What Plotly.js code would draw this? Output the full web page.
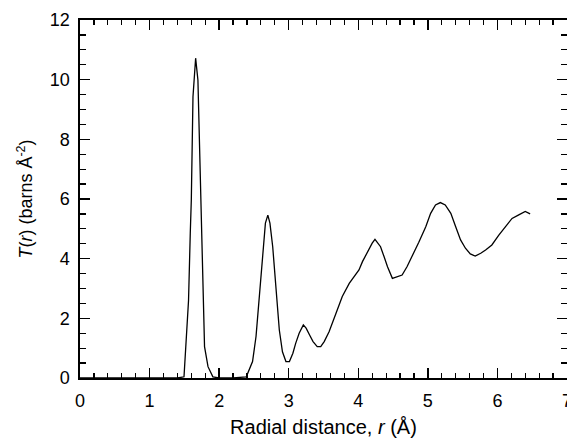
<!DOCTYPE html>
<html>
<head>
<meta charset="utf-8">
<script src="https://cdn.plot.ly/plotly-3.0.1.min.js"></script>
<style>html,body{margin:0;padding:0;background:#fff;overflow:hidden}</style>
</head>
<body>
<div id="chart" style="width:567px;height:440px"></div>
<script>
const rValues = [0.00, 0.50, 1.00, 1.40, 1.495, 1.504, 1.528, 1.56, 1.585, 1.60, 1.624, 1.648, 1.662, 1.695, 1.72, 1.743, 1.767, 1.79, 1.84, 1.91,
  2.00, 2.20, 2.39, 2.48, 2.53, 2.58, 2.63, 2.665, 2.70, 2.73, 2.77, 2.82, 2.865, 2.91, 2.96, 3.01, 3.06, 3.10, 3.15, 3.21, 3.25, 3.30, 3.35, 3.41, 3.46, 3.51, 3.58, 3.68, 3.77, 3.87, 3.96, 4.01, 4.06, 4.13, 4.20, 4.24, 4.27, 4.32, 4.37, 4.42, 4.49, 4.56, 4.63, 4.70, 4.78, 4.87, 4.97, 5.04, 5.11, 5.18, 5.25, 5.33, 5.40, 5.47, 5.54, 5.61, 5.68, 5.76, 5.83, 5.92, 6.02, 6.11, 6.21, 6.30, 6.40, 6.47];
const tValues = [0.00, 0.00, 0.00, 0.00, 0.04, 0.38, 1.05, 2.60, 4.85, 5.97, 9.43, 10.55, 10.72, 9.99, 7.75, 4.96, 2.73, 1.05, 0.38, 0.04,
  0.00, 0.00, 0.04, 0.55, 1.39, 2.73, 4.18, 5.19, 5.46, 5.19, 4.40, 2.95, 1.61, 0.88, 0.55, 0.55, 0.83, 1.16, 1.50, 1.78, 1.67, 1.44, 1.22, 1.05, 1.05, 1.22, 1.55, 2.17, 2.73, 3.17, 3.45, 3.62, 3.90, 4.23, 4.52, 4.65, 4.57, 4.40, 4.07, 3.73, 3.34, 3.40, 3.45, 3.73, 4.10, 4.55, 5.07, 5.52, 5.80, 5.88, 5.80, 5.52, 5.07, 4.63, 4.35, 4.16, 4.09, 4.18, 4.29, 4.46, 4.79, 5.07, 5.35, 5.46, 5.58, 5.50];
const xTickVals = [0, 1, 2, 3, 4, 5, 6, 7];
const yTickVals = [0, 2, 4, 6, 8, 10, 12];

const font = "'Liberation Sans', Arial, sans-serif";
const axisCommon = {
  showgrid: false, zeroline: false, showline: true, linecolor: 'black', linewidth: 1.6,
  mirror: 'ticks', ticks: 'inside', ticklen: 10, tickwidth: 1.3, tickcolor: 'black',
  ticklabeloverflow: 'allow',
  tickfont: {family: font, size: 18, color: 'black'}
};
const layout = {
  width: 567, height: 440,
  margin: {l: 80, r: 0, t: 20, b: 62},
  paper_bgcolor: 'white', plot_bgcolor: 'white',
  showlegend: false,
  xaxis: Object.assign({}, axisCommon, {
    range: [0, 7], tickmode: 'array', tickvals: xTickVals,
    ticklabelstandoff: 6,
    minor: {dtick: 0.2, ticklen: 5, tickwidth: 1.2, tickcolor: 'black', ticks: 'inside'},
    title: {text: 'Radial distance, <i>r</i> (Å)', font: {family: font, size: 20, color: 'black'}, standoff: 10}
  }),
  yaxis: Object.assign({}, axisCommon, {
    range: [0, 12], tickmode: 'array', tickvals: yTickVals,
    ticklabelstandoff: 5,
    minor: {dtick: 0.5, ticklen: 6, tickwidth: 1.2, tickcolor: 'black', ticks: 'inside'},
    title: {text: '<i>T</i>(<i>r</i>) (barns Å<sup>-2</sup>)', font: {family: font, size: 18, color: 'black'}, standoff: 12}
  })
};
Plotly.newPlot('chart', [{
  x: rValues, y: tValues, type: 'scatter', mode: 'lines',
  line: {color: 'black', width: 1.3}
}], layout, {displayModeBar: false, staticPlot: true});
</script>
</body>
</html>
